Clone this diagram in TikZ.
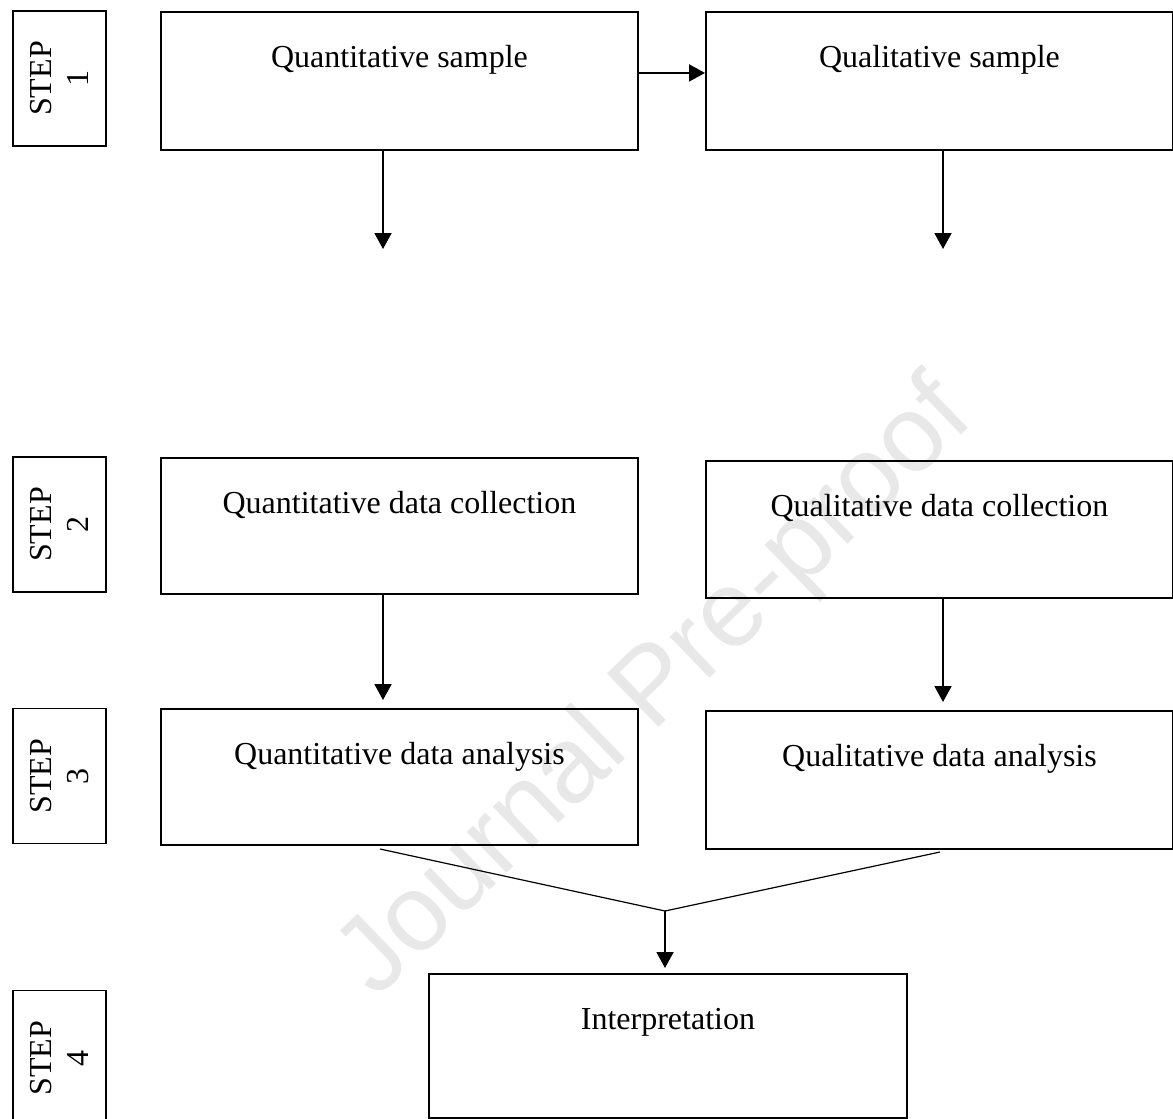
\documentclass[tikz,border=0pt]{standalone}
\usepackage{fontspec}
\setmainfont{Liberation Serif}
\newfontfamily\wmfont{Liberation Sans}
\usetikzlibrary{arrows.meta}
\tikzset{
  boxnode/.style={draw=black, line width=1.9pt, inner sep=0pt, anchor=north west},
  labeltext/.style={anchor=base, inner sep=0pt, font=\fontsize{32}{37}\selectfont},
  stepbox/.style={draw=black, line width=1.9pt, rotate=90, align=center, inner sep=0pt,
    minimum width=135pt, minimum height=93pt, font=\fontsize{32}{37}\selectfont},
  arr/.style={line width=1.9pt, -{Triangle[length=16pt,width=17pt]}},
  thinline/.style={line width=1.2pt},
}
\begin{document}
\begin{tikzpicture}[x=1pt,y=-1pt]
\useasboundingbox (0,0) rectangle (1173,1119);
\clip (0,0) rectangle (1173,1119);
% watermark
\node[rotate=44, text=black!9, font=\wmfont\fontsize{108}{108}\selectfont, inner sep=0pt] (wm) at (657,690) {Journal Pre-proof};
% step boxes
\node[stepbox] (s1) at (59.5,78.5) {STEP\\1};
\node[stepbox] (s2) at (59.5,524.5) {STEP\\2};
\node[stepbox] (s3) at (59.5,776) {STEP\\3};
\node[stepbox] (s4) at (59.5,1058) {STEP\\4};
% main boxes
\node[boxnode, minimum width=477pt, minimum height=138pt] (b1l) at (160,11) {};
\node[boxnode, minimum width=467pt, minimum height=138pt] (b1r) at (705,11) {};
\node[boxnode, minimum width=477pt, minimum height=136pt] (b2l) at (160,457) {};
\node[boxnode, minimum width=467pt, minimum height=137pt] (b2r) at (705,460) {};
\node[boxnode, minimum width=477pt, minimum height=136pt] (b3l) at (160,708) {};
\node[boxnode, minimum width=467pt, minimum height=138pt] (b3r) at (705,710) {};
\node[boxnode, minimum width=478pt, minimum height=144pt] (b4) at (428,973) {};
% texts
\node[labeltext] (t1l) at ([yshift=-56pt]b1l.north) {Quantitative sample};
\node[labeltext] (t1r) at ([yshift=-56pt]b1r.north) {Qualitative sample};
\node[labeltext] (t2l) at ([yshift=-56pt]b2l.north) {Quantitative data collection};
\node[labeltext] (t2r) at ([yshift=-56pt]b2r.north) {Qualitative data collection};
\node[labeltext] (t3l) at ([yshift=-56pt]b3l.north) {Quantitative data analysis};
\node[labeltext] (t3r) at ([yshift=-56pt]b3r.north) {Qualitative data analysis};
\node[labeltext] (t4) at ([yshift=-56pt]b4.north) {Interpretation};
% arrows
\draw[arr] ([yshift=8pt]b1l.east) -- ([yshift=8pt]b1r.west);
\coordinate (e1l) at (383,249);
\coordinate (e1r) at (943,249);
\draw[arr] (b1l.south -| e1l) -- (e1l);
\draw[arr] (b1r.south -| e1r) -- (e1r);
\draw[arr] (b2l.south -| e1l) -- ([yshift=8pt]b3l.north -| e1l);
\draw[arr] (b2r.south -| e1r) -- ([yshift=8pt]b3r.north -| e1r);
% converging
\coordinate (cl) at (380,849);
\coordinate (cr) at (940,852);
\coordinate (m) at (665,911);
\draw[thinline] (cl) -- (m) -- (cr);
\draw[arr] (m) -- ([yshift=5pt]b4.north -| m);
\end{tikzpicture}
\end{document}
